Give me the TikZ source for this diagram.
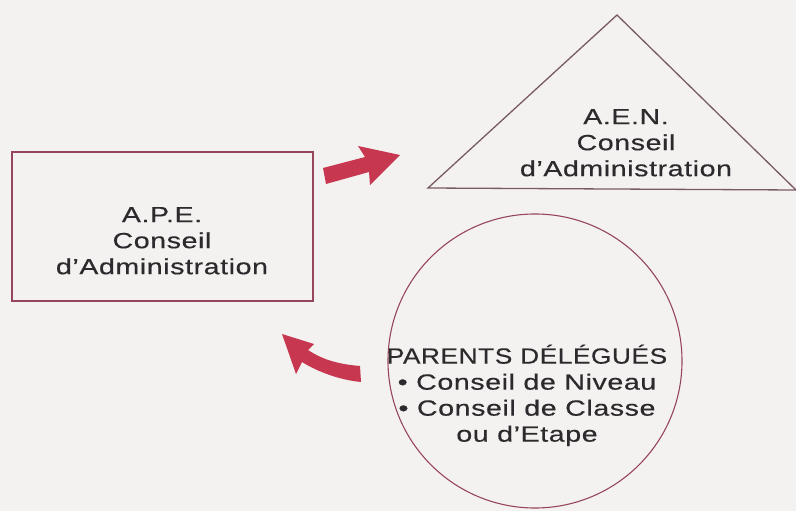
\documentclass[tikz,border=0pt]{standalone}
\usepackage{fontspec}
\usepackage{graphicx}
\newfontfamily\hv[LetterSpace=2,FakeBold=0.4]{Liberation Sans}
\definecolor{paper}{RGB}{244,242,240}
\definecolor{ink}{RGB}{45,42,45}
\definecolor{edge}{RGB}{150,70,90}
\definecolor{edgeg}{RGB}{120,90,100}
\definecolor{arrowred}{RGB}{200,55,80}
\newcommand{\widetext}[1]{\scalebox{1.3}[1]{\hv\fontsize{22}{26}\selectfont\begin{tabular}{@{}c@{}}#1\end{tabular}}}
\newcommand{\capsline}[1]{\scalebox{0.92}[1]{#1}}
\tikzset{
  lbl/.style={text=ink, inner sep=0pt},
  shapeline/.style={draw=edge, line width=1.3pt},
  blockarrow/.style={fill=arrowred, draw=none}
}
\begin{document}
\begin{tikzpicture}[x=1pt,y=-1pt]
\fill[paper] (0,0) rectangle (796,511);
\useasboundingbox (0,0) rectangle (796,511);
% rectangle
\draw[shapeline] (12,152) rectangle (313,301);
\node[lbl] (ape) at (162,243) {\widetext{A.P.E.\\Conseil\\d’Administration}};
% triangle
\draw[draw=edgeg, line width=1.3pt, line join=miter] (617,15) -- (796,190) -- (428,188) -- cycle;
\node[lbl] (aen) at (626,145) {\widetext{A.E.N.\\Conseil\\d’Administration}};
% circle
\draw[shapeline, line width=1.1pt] (535,361) circle (147);
\node[lbl] (par) at (527,397) {\widetext{\capsline{PARENTS DÉLÉGUÉS}\\• Conseil de Niveau\\• Conseil de Classe\\ou d’Etape}};
% straight arrow
\fill[blockarrow] (323,168) -- (365,157) -- (358,146) -- (400,155) -- (370,185) -- (369,172) -- (326,184) -- cycle;
% curved arrow
\fill[blockarrow] (360,366) .. controls (335,364) and (320,358) .. (308,350)
  -- (314,344) -- (282,334) -- (296,374) -- (302,362)
  .. controls (318,372) and (340,380) .. (361,382) -- cycle;
\end{tikzpicture}
\end{document}
